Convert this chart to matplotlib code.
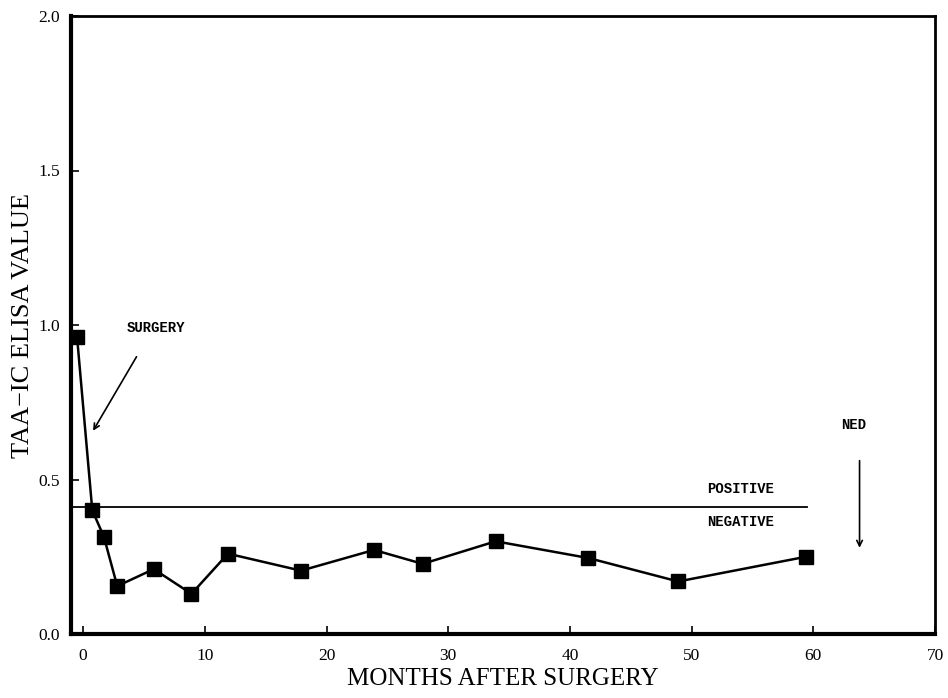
import matplotlib
matplotlib.use("Agg")
import matplotlib.pyplot as plt

# valores
meses = [-0.5, 0.75, 1.7, 2.8, 5.8, 8.9, 11.9, 17.9, 23.9, 27.9, 33.9, 41.5, 48.9, 59.4]
valores = [0.96, 0.40, 0.315, 0.155, 0.21, 0.13, 0.26, 0.205, 0.272, 0.227, 0.30, 0.246, 0.17, 0.25]
umbral = 0.41
umbral_fin = 59.5

x_ticks = [0, 10, 20, 30, 40, 50, 60, 70]
y_ticks = [0.0, 0.5, 1.0, 1.5, 2.0]

fig = plt.figure(figsize=(9.48, 6.98), dpi=100)
ax = fig.add_axes([71 / 948, 1 - 634 / 698, 864 / 948, 618 / 698])

ax.plot(meses, valores, color="black", lw=1.8, marker="s", markersize=9.5,
        markerfacecolor="black", markeredgecolor="black")
ax.plot([-1, umbral_fin], [umbral, umbral], color="black", lw=1.3)

ax.set_xlim(-1, 69.7)
ax.set_ylim(0, 2.0)
ax.set_xticks(x_ticks)
ax.set_yticks(y_ticks)
ax.set_yticklabels([f"{v:.1f}" for v in y_ticks])
ax.tick_params(direction="in", length=6, width=1.2, labelsize=12.5)
ax.tick_params(axis="x", pad=10)
ax.tick_params(axis="y", pad=8)
for lbl in ax.get_xticklabels() + ax.get_yticklabels():
    lbl.set_family("Liberation Serif")

ax.spines["left"].set_linewidth(3)
ax.spines["bottom"].set_linewidth(3)
ax.spines["top"].set_linewidth(2)
ax.spines["right"].set_linewidth(2)

ax.set_xlabel("MONTHS AFTER SURGERY", family="Liberation Serif", fontsize=18, labelpad=3)
ax.set_ylabel("TAA\u2212IC ELISA VALUE", family="Liberation Serif", fontsize=19)
ax.yaxis.set_label_coords(-0.043, 0.5)

mono = dict(family="Liberation Mono", fontweight="bold", fontsize=10, color="black")
ax.text(6.0, 0.99, "SURGERY", ha="center", va="center", **mono)
ax.annotate("", xy=(0.7, 0.65), xytext=(4.5, 0.905),
            arrowprops=dict(arrowstyle="->", color="black", lw=1.2))
ax.text(54.0, 0.47, "POSITIVE", ha="center", va="center", **mono)
ax.text(54.0, 0.362, "NEGATIVE", ha="center", va="center", **mono)
ax.text(63.3, 0.675, "NED", ha="center", va="center", **mono)
ax.annotate("", xy=(63.8, 0.27), xytext=(63.8, 0.57),
            arrowprops=dict(arrowstyle="->", color="black", lw=1.2))

fig.savefig("out.png", dpi=100)
